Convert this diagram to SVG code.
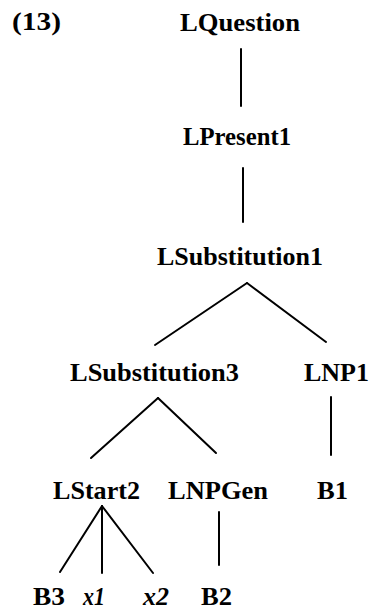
<svg xmlns="http://www.w3.org/2000/svg" width="371" height="610" viewBox="0 0 371 610">
  <style>
    .lbl { font-family: "Liberation Serif", "Times New Roman", serif; font-size: 25px; font-weight: bold; fill: #000; }
    .var { font-style: italic; }
    .edge { stroke: #000; stroke-width: 2; fill: none; stroke-linecap: round; }
  </style>
  <rect width="371" height="610" fill="#fff"/>

  <!-- example number -->
  <text class="lbl" x="12" y="30" textLength="49" lengthAdjust="spacingAndGlyphs">(13)</text>

  <!-- tree edges -->
  <g id="connectors">
    <line class="edge" x1="241" y1="49" x2="241" y2="106"/>
    <line class="edge" x1="243" y1="168" x2="243" y2="222"/>
    <line class="edge" x1="247" y1="283" x2="155" y2="345"/>
    <line class="edge" x1="247" y1="283" x2="326" y2="342"/>
    <line class="edge" x1="158" y1="398" x2="91" y2="458"/>
    <line class="edge" x1="158" y1="398" x2="216" y2="453"/>
    <line class="edge" x1="331" y1="397" x2="331" y2="455"/>
    <line class="edge" x1="102" y1="506" x2="60" y2="572"/>
    <line class="edge" x1="102" y1="506" x2="102" y2="573"/>
    <line class="edge" x1="102" y1="506" x2="153" y2="573"/>
    <line class="edge" x1="219" y1="512" x2="219" y2="565"/>
  </g>

  <!-- tree nodes -->
  <g id="n-lquestion"><text class="lbl" x="180" y="31" textLength="120" lengthAdjust="spacingAndGlyphs">LQuestion</text></g>
  <g id="n-lpresent1"><text class="lbl" x="183" y="145" textLength="108" lengthAdjust="spacingAndGlyphs">LPresent1</text></g>
  <g id="n-lsubstitution1"><text class="lbl" x="157" y="265" textLength="166" lengthAdjust="spacingAndGlyphs">LSubstitution1</text></g>
  <g id="n-lsubstitution3"><text class="lbl" x="70" y="381" textLength="169" lengthAdjust="spacingAndGlyphs">LSubstitution3</text></g>
  <g id="n-lnp1"><text class="lbl" x="304" y="381" textLength="65" lengthAdjust="spacingAndGlyphs">LNP1</text></g>
  <g id="n-lstart2"><text class="lbl" x="53" y="499" textLength="87" lengthAdjust="spacingAndGlyphs">LStart2</text></g>
  <g id="n-lnpgen"><text class="lbl" x="168" y="499" textLength="100" lengthAdjust="spacingAndGlyphs">LNPGen</text></g>
  <g id="n-b1"><text class="lbl" x="317" y="499" textLength="31" lengthAdjust="spacingAndGlyphs">B1</text></g>
  <g id="n-b3"><text class="lbl" x="33" y="605" textLength="32" lengthAdjust="spacingAndGlyphs">B3</text></g>
  <g id="n-x1"><text class="lbl var" x="83" y="605" textLength="22" lengthAdjust="spacingAndGlyphs">x1</text></g>
  <g id="n-x2"><text class="lbl var" x="143" y="605" textLength="26" lengthAdjust="spacingAndGlyphs">x2</text></g>
  <g id="n-b2"><text class="lbl" x="201" y="605" textLength="31" lengthAdjust="spacingAndGlyphs">B2</text></g>
</svg>
